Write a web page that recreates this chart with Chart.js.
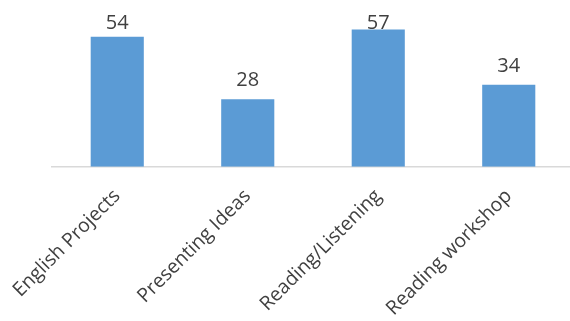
<!DOCTYPE html>
<html>
<head>
<meta charset="utf-8">
<script src="https://cdn.jsdelivr.net/npm/chart.js@4/dist/chart.umd.min.js"></script>
<style>
  html, body { margin: 0; padding: 0; background: #fff; overflow: hidden; }
  #wrap { width: 574px; height: 321px; }
</style>
</head>
<body>
<div id="wrap"><canvas id="barChart"></canvas></div>
<script>
// categories and counts
var categories = ['English Projects', 'Presenting Ideas', 'Reading/Listening', 'Reading workshop'];
var counts = [54, 28, 57, 34];

var textColor = '#404040';
var fontFamily = '"Open Sans", "Segoe UI", sans-serif';

// value labels above each bar
var valueLabels = {
    id: 'valueLabels',
    afterDatasetsDraw: function (chart) {
        var ctx = chart.ctx;
        var meta = chart.getDatasetMeta(0);
        ctx.save();
        ctx.fillStyle = textColor;
        ctx.font = '20px ' + fontFamily;
        ctx.textAlign = 'center';
        ctx.textBaseline = 'alphabetic';
        meta.data.forEach(function (bar, i) {
            var y = Math.max(bar.y - 13, 28.5);
            ctx.fillText(String(counts[i]), bar.x, y);
        });
        ctx.restore();
    }
};

var ctx = document.getElementById('barChart').getContext('2d');
var myBarChart = new Chart(ctx, {
    type: 'bar',
    data: {
        labels: categories,
        datasets: [{
            data: counts,
            backgroundColor: '#5B9BD5',
            barPercentage: 0.407,
            categoryPercentage: 1
        }]
    },
    options: {
        responsive: true,
        maintainAspectRatio: false,
        animation: false,
        layout: { padding: { left: 52, right: 0, top: 22.3, bottom: 0 } },
        plugins: {
            legend: { display: false },
            tooltip: { enabled: false }
        },
        scales: {
            x: {
                grid: { display: false, drawTicks: false },
                border: { display: true, color: '#d9d9d9', width: 1.5 },
                ticks: {
                    color: textColor,
                    font: { size: 19.5, family: fontFamily },
                    minRotation: 45,
                    maxRotation: 45,
                    padding: 18
                },
                afterFit: function (scale) {
                    // keep the plot edges fixed, rotated labels may overhang
                    scale.height = 154.3;
                    scale.paddingLeft = 0;
                    scale.paddingRight = 0;
                }
            },
            y: {
                display: false,
                min: 0,
                max: 60
            }
        }
    },
    plugins: [valueLabels]
});
</script>
</body>
</html>
